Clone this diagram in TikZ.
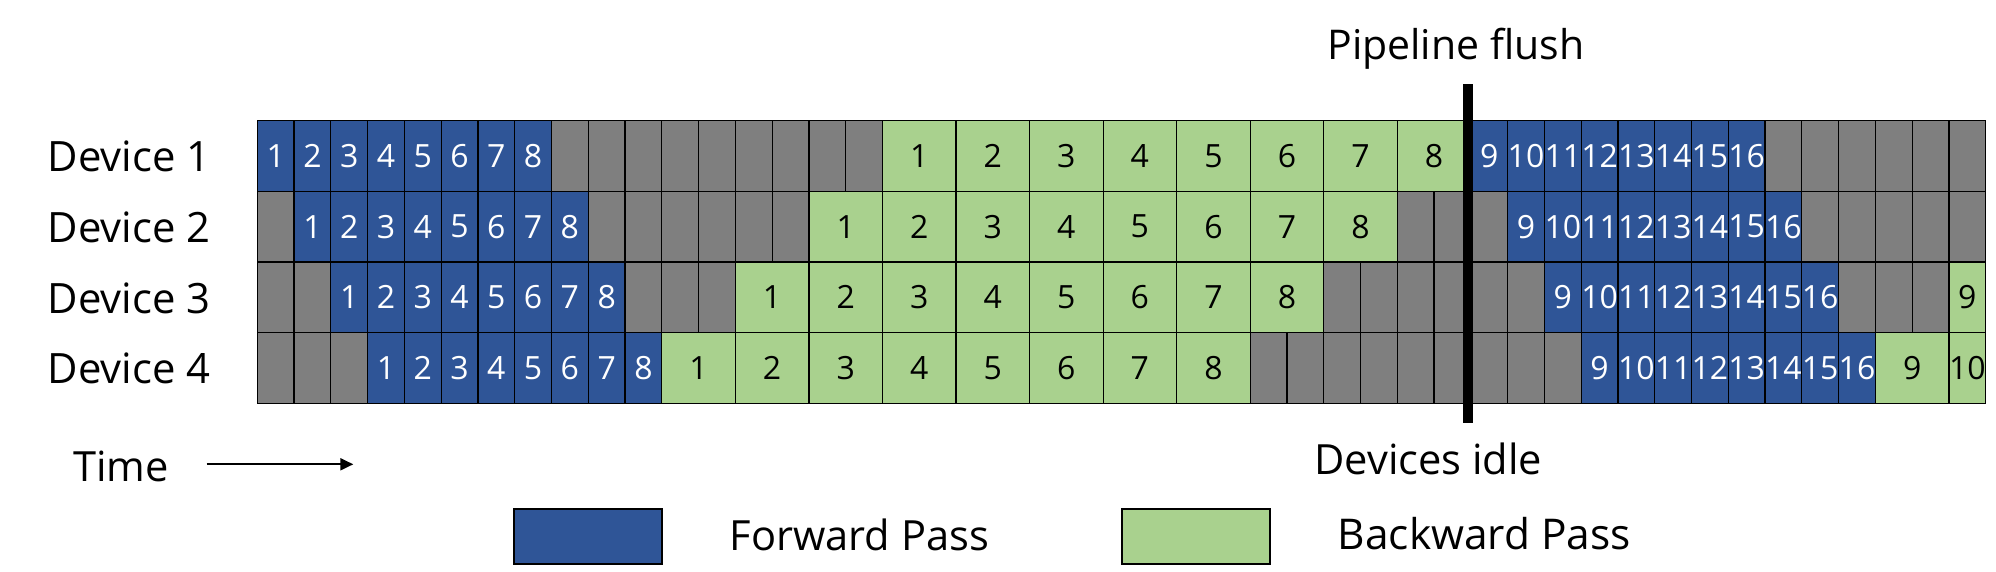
\documentclass[tikz,border=0pt]{standalone}
\usepackage{fontspec}
\setmainfont{Open Sans}
\setsansfont{Open Sans}
\usetikzlibrary{arrows.meta}
\definecolor{fwdblue}{HTML}{2F5597}
\definecolor{bwdgreen}{HTML}{A9D18E}
\definecolor{idlegrey}{HTML}{7F7F7F}
\tikzset{
  cellbase/.style={draw=black, line width=0.6pt, inner sep=0pt, outer sep=0pt,
    anchor=north west, minimum height=35.333pt, font=\fontsize{16}{18}\selectfont},
  fwd/.style={cellbase, fill=fwdblue, text=white},
  bwd/.style={cellbase, fill=bwdgreen, text=black},
  idle/.style={cellbase, fill=idlegrey},
  lbl/.style={inner sep=0pt, anchor=base west, font=\fontsize{20.8}{24}\selectfont},
  devlbl/.style={inner sep=0pt, anchor=base west, font=\fontsize{20.9}{24}\selectfont},
  legbox/.style={draw=black, line width=0.9pt, minimum width=73.7pt, minimum height=27.6pt, inner sep=0pt},
}
\newcommand\cellbox[5]{%
  \node[#4, minimum width={#3*18.387pt}] (c#1-#2) at ({257.3+#2*36.774},{120.7+(#1-1)*70.667}) {#5};%
}
\newcommand\greys[3]{%
  \foreach \s in {#2,...,#3} {\cellbox{#1}{\s}{1}{idle}{}}%
}
\begin{document}
\begin{tikzpicture}[x=0.5pt,y=-0.5pt]
\useasboundingbox (0,0) rectangle (1996,572);
\fill[white] (0,0) rectangle (1996,572);
% idle cells
\greys{1}{8}{16}
\greys{1}{41}{46}
\greys{2}{0}{0}
\greys{2}{9}{14}
\greys{2}{31}{33}
\greys{2}{42}{46}
\greys{3}{0}{1}
\greys{3}{10}{12}
\greys{3}{29}{34}
\greys{3}{43}{45}
\greys{4}{0}{2}
\greys{4}{27}{35}
% forward / backward cells
\foreach \r in {1,...,4} {
  \pgfmathtruncatemacro\o{\r-1}
  \foreach \i in {1,...,8} {
    \pgfmathtruncatemacro\s{\o+\i-1}
    \cellbox{\r}{\s}{1}{fwd}{\i}
    \pgfmathtruncatemacro\b{17-2*\o+2*(\i-1)}
    \cellbox{\r}{\b}{2}{bwd}{\i}
  }
  \foreach \i in {9,...,16} {
    \pgfmathtruncatemacro\s{33+\o+\i-9}
    \cellbox{\r}{\s}{1}{fwd}{\i}
  }
}
\cellbox{3}{46}{1}{bwd}{9}
\cellbox{4}{44}{2}{bwd}{9}
\cellbox{4}{46}{1}{bwd}{10}
% device labels
\foreach \r in {1,...,4} {
  \node[devlbl] (dev\r) at (47.5,{171.7+(\r-1)*70.667}) {Device \r};
}
% pipeline flush
\node[inner sep=0pt, anchor=base, font=\fontsize{20.5}{24}\selectfont] (flushlbl) at (1455.8,60) {Pipeline flush};
\coordinate (flushtop) at (1468,84.3);
\coordinate (flushbot) at (1468,423);
\draw[line width=4.7pt] (flushtop) -- (flushbot);
\node[lbl] (idlelbl) at (1314,474.3) {Devices idle};
% time arrow
\node[lbl] (timelbl) at (72.7,481.7) {Time};
\coordinate (tstart) at (206.7,464.3);
\coordinate (tend) at (353.3,464.3);
\draw[line width=1pt, -{Triangle[length=6.5pt,width=6pt]}] (tstart) -- (tend);
% legend
\node[legbox, fill=fwdblue] (legf) at (588,536.6) {};
\node[lbl] (legftxt) at (729.3,550) {Forward Pass};
\node[legbox, fill=bwdgreen] (legb) at (1196,536.6) {};
\node[lbl, font=\fontsize{21.2}{24}\selectfont] (legbtxt) at (1337.5,549) {Backward Pass};
\end{tikzpicture}
\end{document}
